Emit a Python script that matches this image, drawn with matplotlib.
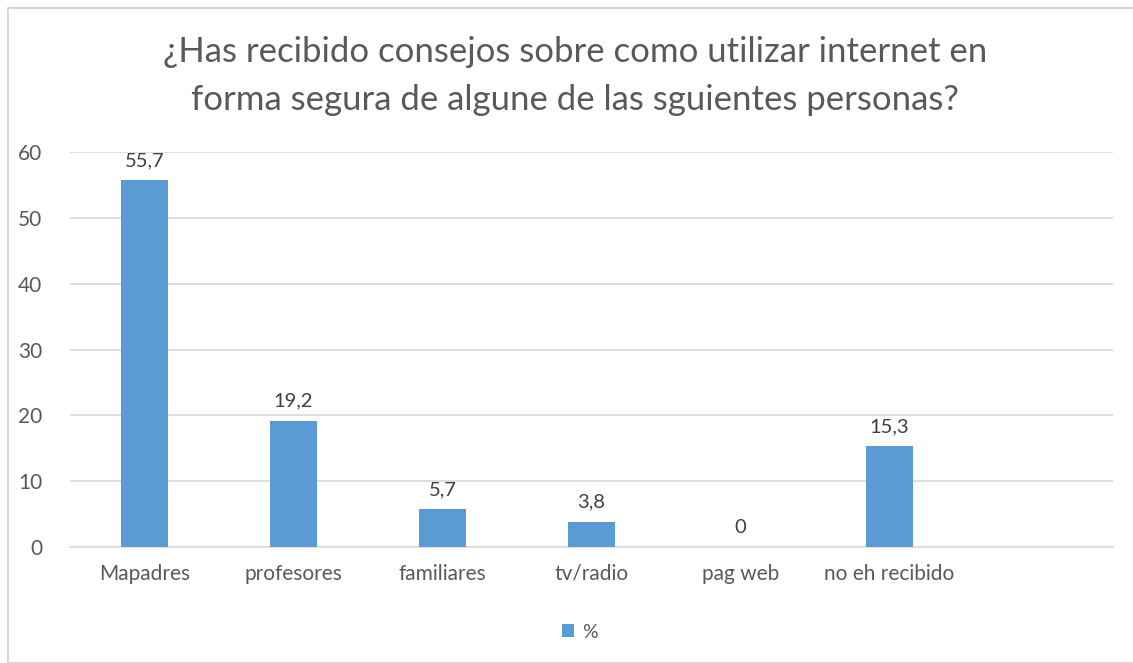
import matplotlib
matplotlib.use("Agg")
import matplotlib.pyplot as plt
from matplotlib.patches import Rectangle

categories = ["Mapadres", "profesores", "familiares", "tv/radio", "pag web", "no eh recibido", ""]
values = [55.7, 19.2, 5.7, 3.8, 0, 15.3, None]
labels = ["55,7", "19,2", "5,7", "3,8", "0", "15,3", None]

BAR_COLOR = "#5b9bd5"
TEXT_COLOR = "#595959"
GRID_COLOR = "#d9d9d9"

plt.rcParams["font.family"] = ["Lato", "DejaVu Sans"]

fig = plt.figure(figsize=(11.33, 6.63), dpi=100)
fig.patches.append(Rectangle((8 / 1133, 0), 1.0, 1 - 8 / 663, transform=fig.transFigure,
                             fill=False, edgecolor="#d0d0d0", linewidth=1.2))
ax = fig.add_axes([70 / 1133, 116 / 663, 1043 / 1133, 395 / 663])

xs = list(range(len(categories)))
bar_vals = [v if v is not None else 0 for v in values]
bars = ax.bar(xs[:-1], bar_vals[:-1], width=0.32, color=BAR_COLOR, label="%", zorder=3)
for x, v, lab in zip(xs, bar_vals, labels):
    if lab is not None:
        ax.annotate(lab, (x, v), xytext=(0, 8), textcoords="offset points",
                    ha="center", va="bottom", fontsize=14.5, color="#404040")

ax.set_xlim(-0.5, len(categories) - 0.5)
ax.set_ylim(0, 60)
ax.set_yticks(range(0, 61, 10))
ax.set_xticks(xs)
ax.set_xticklabels(categories)
ax.tick_params(axis="both", length=0, labelsize=15, labelcolor=TEXT_COLOR)
ax.tick_params(axis="x", pad=12)
ax.tick_params(axis="y", pad=20)
ax.grid(axis="y", color=GRID_COLOR, linewidth=1.2, zorder=0)
for s in ["top", "right", "left"]:
    ax.spines[s].set_visible(False)
ax.spines["bottom"].set_color(GRID_COLOR)
ax.spines["bottom"].set_linewidth(1.2)

fig.text(575 / 1133, 1 - 76 / 663, "¿Has recibido consejos sobre como utilizar internet en\nforma segura de algune de las sguientes personas?",
         ha="center", va="center", fontsize=25, color=TEXT_COLOR, linespacing=1.6)

fig.legend(handles=[bars], labels=["%"], loc="center", bbox_to_anchor=(580 / 1133, 1 - 632 / 663),
           frameon=False, fontsize=14, handlelength=0.6, handleheight=0.6, handletextpad=0.4,
           labelcolor=TEXT_COLOR)

fig.savefig("out.png", dpi=100)
